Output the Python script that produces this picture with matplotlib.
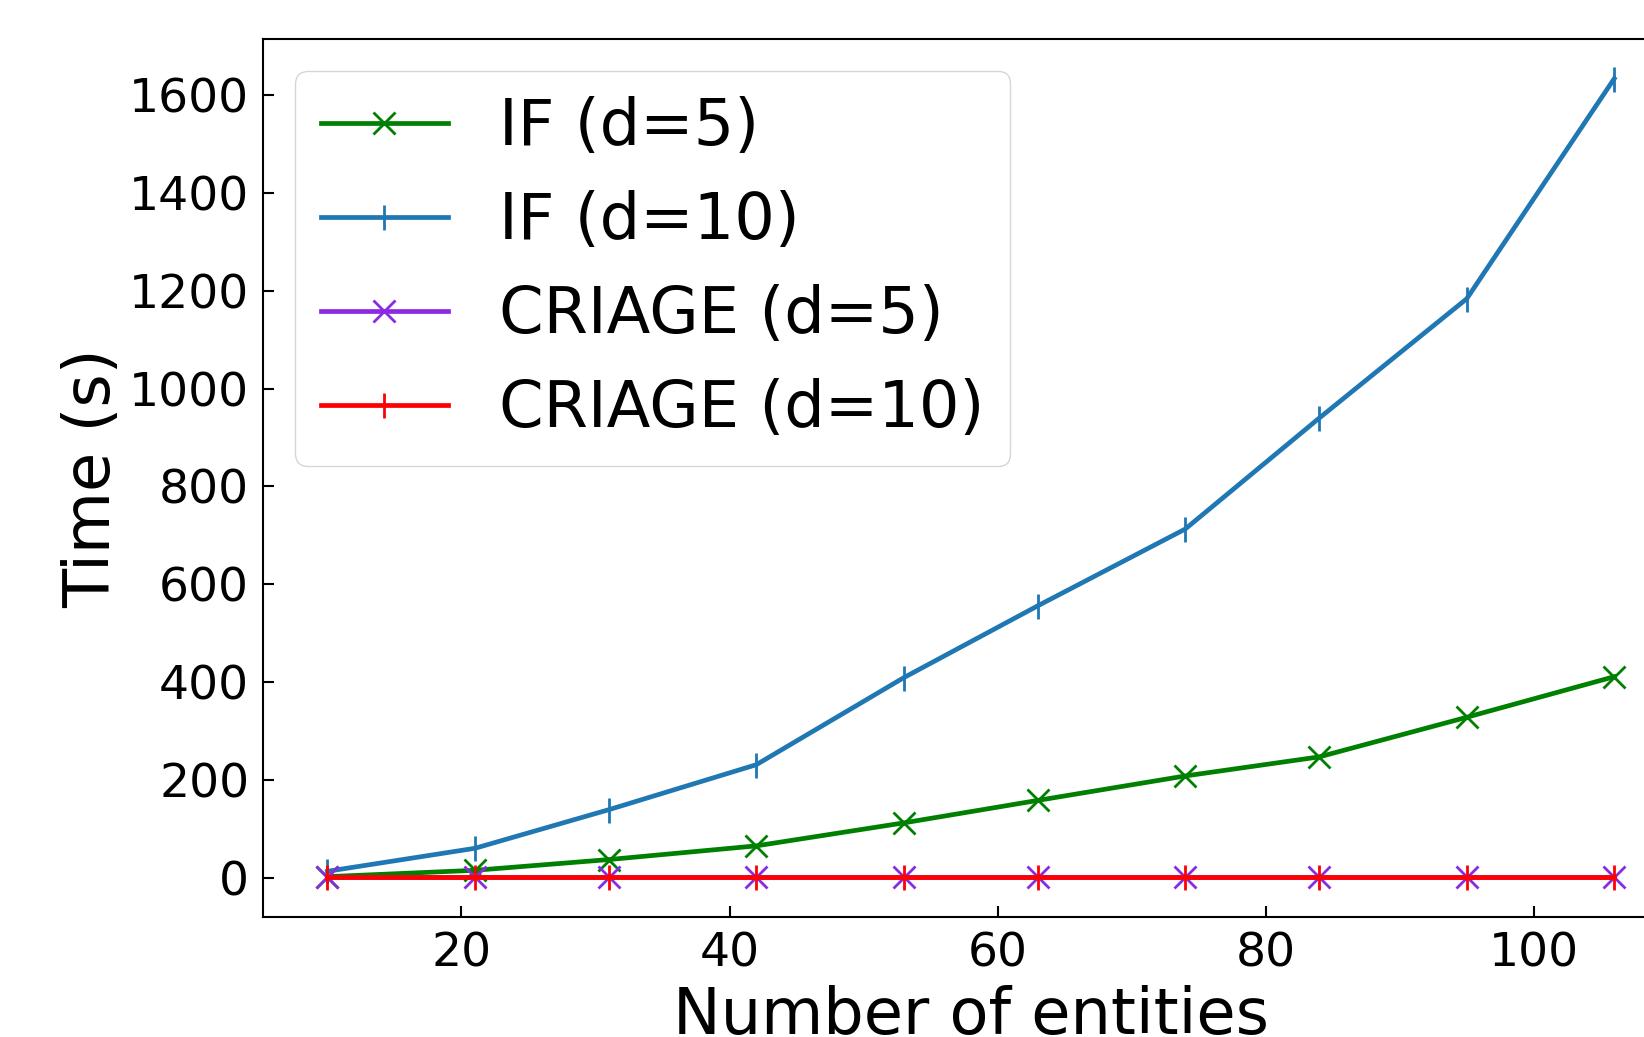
import matplotlib
matplotlib.use("Agg")
import matplotlib.pyplot as plt

# number of entities
entities = [10, 21, 31, 42, 53, 63, 74, 84, 95, 106]

# time in seconds
if_d5 = [2, 15, 37, 65, 112, 158, 208, 247, 328, 411]
if_d10 = [13, 60, 139, 231, 409, 556, 713, 940, 1184, 1634]
criage_d5 = [0.5, 0.5, 0.5, 0.5, 0.5, 0.5, 0.5, 0.5, 0.5, 0.5]
criage_d10 = [0.3, 0.3, 0.3, 0.3, 0.3, 0.3, 0.3, 0.3, 0.3, 0.3]

labels = ["IF (d=5)", "IF (d=10)", "CRIAGE (d=5)", "CRIAGE (d=10)"]

fig = plt.figure(figsize=(16.44, 10.37), dpi=100)
ax = fig.add_axes([0.160, 0.1153, 0.861, 0.8473])

ax.plot(entities, if_d5, color="green", marker="x", lw=3.4, ms=16, mew=2, label=labels[0])
ax.plot(entities, if_d10, color="#1f77b4", marker="|", lw=3.4, ms=18, mew=2, label=labels[1])
ax.plot(entities, criage_d5, color="blueviolet", marker="x", lw=3.4, ms=16, mew=2, label=labels[2])
ax.plot(entities, criage_d10, color="red", marker="|", lw=3.4, ms=18, mew=2, label=labels[3])

ax.set_xlabel("Number of entities", fontsize=46, labelpad=6)
ax.set_ylabel("Time (s)", fontsize=46)
ax.set_xticks([20, 40, 60, 80, 100])
ax.set_yticks(range(0, 1601, 200))
ax.tick_params(direction="in", labelsize=34, length=8, width=1.5, pad=10)
for s in ax.spines.values():
    s.set_linewidth(1.5)

ax.legend(loc="upper left", fontsize=46)

plt.savefig("out.png", dpi=100)
